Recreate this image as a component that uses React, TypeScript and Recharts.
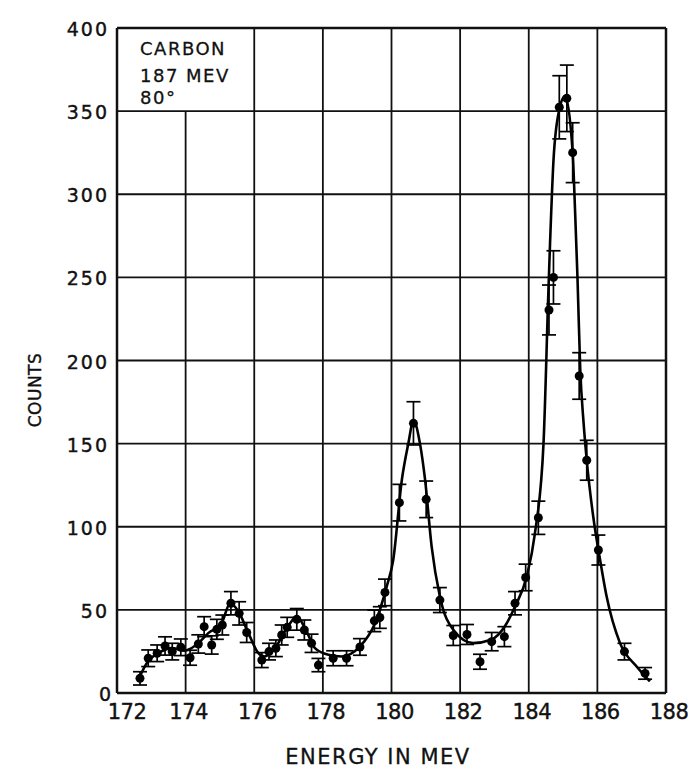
import { ComposedChart, Line, Scatter, ErrorBar, XAxis, YAxis, ReferenceLine } from "recharts"

// measured points (energy in MeV, counts, statistical error)
const energies = [
  172.67, 172.91, 173.17, 173.4, 173.61, 173.86, 174.13, 174.37, 174.54, 174.76, 174.91, 175.07, 175.32,
  175.56, 175.78, 176.22, 176.43, 176.63, 176.8, 176.96, 177.24, 177.46, 177.67, 177.87, 178.3, 178.69,
  179.08, 179.5, 179.66, 179.81, 180.23, 180.64, 181.01, 181.41, 181.8, 182.2, 182.58, 182.92, 183.29,
  183.6, 183.91, 184.28, 184.59, 184.72, 184.89, 185.11, 185.28, 185.47, 185.69, 186.03, 186.79, 187.39,
]
const counts = [
  8.8, 20.9, 23.9, 28.3, 24.9, 27.5, 21.2, 29.5, 39.9, 28.9, 38.3, 40.9, 54,
  47.9, 36.4, 19.8, 24.9, 26.9, 34.9, 39.5, 44.3, 37.9, 29.9, 16.8, 20.9, 20.9,
  27.7, 43.4, 45.4, 60.5, 114.5, 162.2, 116.5, 55.9, 34.6, 35.2, 18.8, 30.9, 33.9,
  54, 69.5, 105.4, 230.4, 250, 352.3, 357.7, 325, 190.7, 140, 86, 24.9, 11.8,
]
const errors = [
  4, 5, 5, 5.5, 5, 5, 4.5, 5.5, 6, 5.5, 6, 6, 7,
  7, 6, 4.5, 5, 5, 6, 6, 6.5, 6, 5.5, 4, 4.5, 4.5,
  5, 6.5, 6.5, 8, 11, 13, 11, 7.5, 6, 6, 4.5, 5.5, 6,
  7, 8, 10, 15, 16, 19, 20, 18, 14, 12, 9, 5, 3.5,
]

// hand-drawn fitted curve
const curveEnergy = [
  172.62, 172.9, 173.2, 173.6, 173.95, 174.13, 174.37, 174.66, 175.05, 175.3, 175.54, 175.83, 176.12,
  176.3, 176.6, 176.98, 177.24, 177.48, 177.77, 178.16, 178.55, 179.08, 179.52, 179.86, 180.05, 180.3,
  180.49, 180.64, 180.83, 180.98, 181.17, 181.41, 181.8, 182.38, 182.9, 183.3, 183.6, 183.94, 184.18,
  184.43, 184.57, 184.62, 184.72, 184.88, 185.06, 185.28, 185.35, 185.42, 185.5, 185.6, 185.69, 185.88,
  186.08, 186.27, 186.66, 187.15, 187.53,
]
const curveCounts = [
  8, 19, 24, 27, 25.5, 26.5, 30, 36, 42, 54, 49, 36, 24,
  22, 27, 40, 46, 39, 27, 23, 22, 28, 42, 64, 80, 128,
  150, 164, 150, 128, 88, 58, 38, 30, 32, 40, 52, 70, 96,
  150, 240, 270, 320, 350, 359, 325, 290, 250, 195, 162, 140, 106,
  80, 58, 30, 15.8, 7,
]

const xTicks = [172, 174, 176, 178, 180, 182, 184, 186, 188]
const yTicks = [0, 50, 100, 150, 200, 250, 300, 350, 400]

const points = energies.map((e, i) => ({ x: e, y: counts[i], err: errors[i] }))
const curve = curveEnergy.map((e, i) => ({ x: e, y: curveCounts[i] }))

const font = "'DejaVu Sans', sans-serif"
const ink = "#111"

const XTick = ({ x, y, payload }: any) => (
  <text
    x={x + (payload.value === 172 ? 10 : 3)}
    y={y + 24}
    textAnchor="middle"
    fontFamily={font}
    fontSize={21}
    letterSpacing={-0.5}
    fill={ink}
    stroke={ink}
    strokeWidth={0.4}
  >
    {payload.value}
  </text>
)

const YTick = ({ x, y, payload }: any) => (
  <text
    x={x - (payload.value === 0 ? 2 : 6)}
    y={y + 8}
    textAnchor="end"
    fontFamily={font}
    fontSize={19}
    letterSpacing={2}
    fill={ink}
    stroke={ink}
    strokeWidth={0.4}
  >
    {payload.value}
  </text>
)

const Dot = (p: any) => <circle cx={p.cx} cy={p.cy} r={4.5} fill="#000" />

export default function App() {
  return (
    <div style={{ position: "absolute", left: 0, top: 0, background: "#fff" }}>
      <ComposedChart width={689} height={769} margin={{ top: 28, right: 23, bottom: 46, left: 57 }}>
        <XAxis
          type="number"
          dataKey="x"
          domain={[172, 188]}
          ticks={xTicks}
          axisLine={false}
          tickLine={false}
          tickSize={0}
          height={30}
          tick={<XTick />}
          allowDataOverflow
        />
        <YAxis
          type="number"
          dataKey="y"
          domain={[0, 400]}
          ticks={yTicks}
          axisLine={false}
          tickLine={false}
          tickSize={0}
          width={60}
          tick={<YTick />}
        />
        {yTicks.map((v) => (
          <ReferenceLine key={`h${v}`} y={v} stroke={ink} strokeWidth={v === 0 || v === 400 ? 2.5 : 1.8} />
        ))}
        {xTicks.map((v) =>
          v === 174 ? (
            <ReferenceLine key={`v${v}`} segment={[{ x: v, y: 0 }, { x: v, y: 350 }]} stroke={ink} strokeWidth={1.8} />
          ) : (
            <ReferenceLine key={`v${v}`} x={v} stroke={ink} strokeWidth={v === 172 || v === 188 ? 2.5 : 1.8} />
          )
        )}
        <Line
          data={curve}
          dataKey="y"
          type="monotone"
          stroke="#000"
          strokeWidth={2.6}
          dot={false}
          activeDot={false}
          isAnimationActive={false}
        />
        <Scatter data={points} dataKey="y" shape={<Dot />} isAnimationActive={false}>
          <ErrorBar dataKey="err" direction="y" width={7} stroke="#000" strokeWidth={1.7} isAnimationActive={false} />
        </Scatter>
        <text fontFamily={font} fontSize={18} letterSpacing={1.5} fill={ink} stroke={ink} strokeWidth={0.3}>
          <tspan x={140} y={55}>CARBON</tspan>
          <tspan x={140} y={82}>187 MEV</tspan>
          <tspan x={140} y={104}>80°</tspan>
        </text>
        <text
          x={35}
          y={390}
          transform="rotate(-90 35 390)"
          textAnchor="middle"
          dominantBaseline="central"
          fontFamily={font}
          fontSize={17}
          letterSpacing={0.5}
          fill={ink}
          stroke={ink}
          strokeWidth={0.4}
        >
          COUNTS
        </text>
        <text
          x={378}
          y={764}
          textAnchor="middle"
          fontFamily={font}
          fontSize={21}
          letterSpacing={1.5}
          fill={ink}
          stroke={ink}
          strokeWidth={0.3}
        >
          ENERGY IN MEV
        </text>
      </ComposedChart>
    </div>
  )
}
